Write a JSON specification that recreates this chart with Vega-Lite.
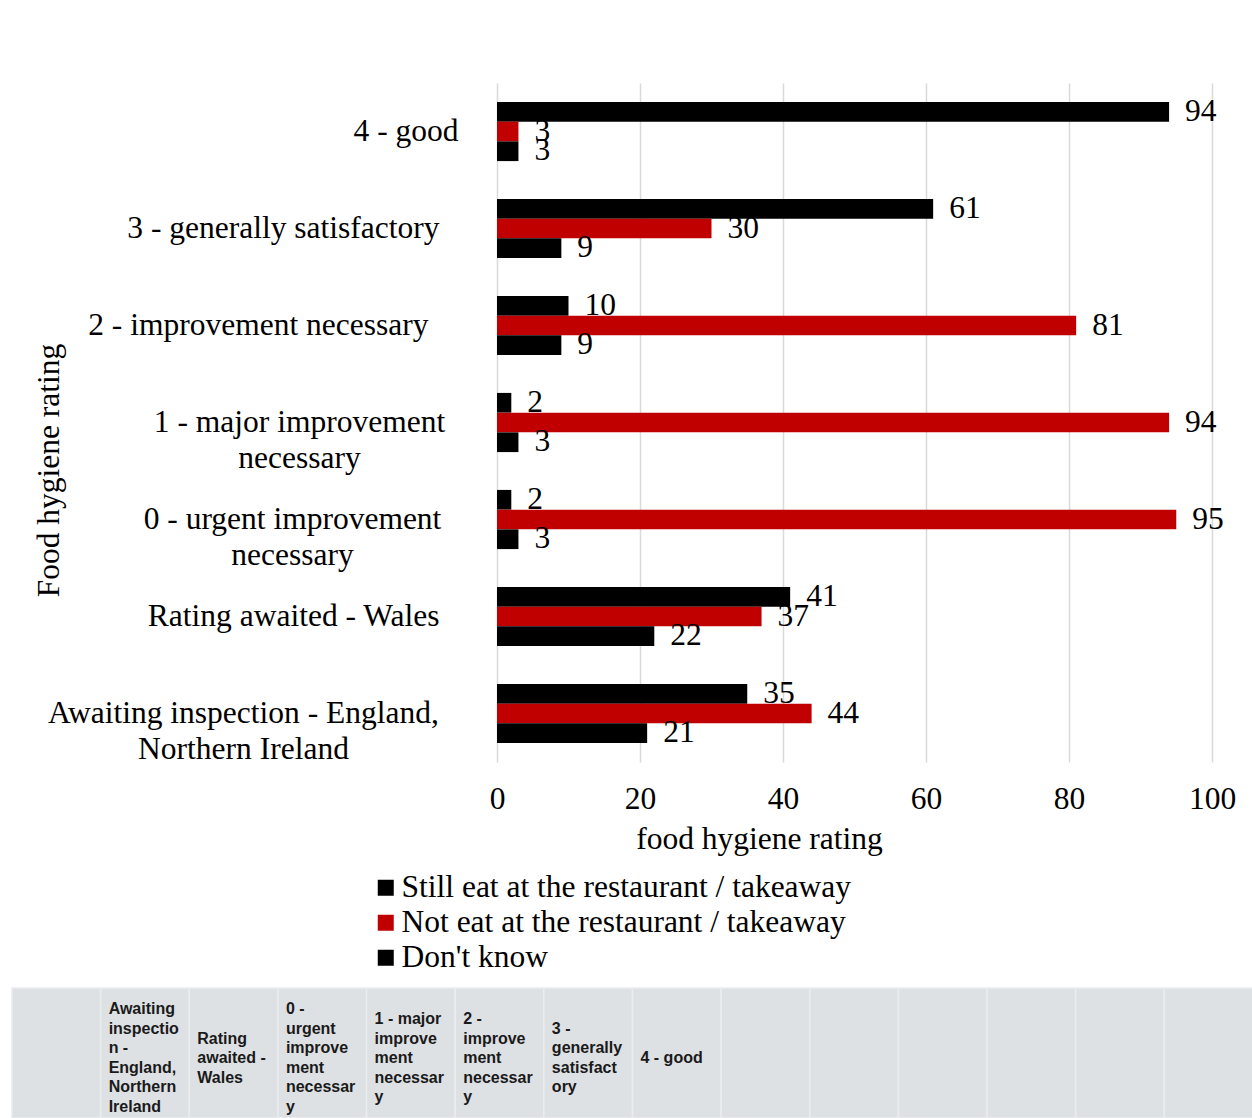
{
  "$schema": "https://vega.github.io/schema/vega-lite/v6.json",
  "padding": {"left": 11, "top": 83, "right": 0, "bottom": 0},
  "background": "#ffffff",
  "columns": 1,
  "spacing": 132,
  "config": {
    "font": "Liberation Serif",
    "view": {"stroke": null}
  },
  "concat": [
    {
      "width": 715,
      "height": 679,
      "data": {
        "values": [
          {"rating": "4 - good", "response": "Still eat at the restaurant / takeaway", "pct": 94},
          {"rating": "4 - good", "response": "Not eat at the restaurant / takeaway", "pct": 3},
          {"rating": "4 - good", "response": "Don't know", "pct": 3},
          {"rating": "3 - generally satisfactory", "response": "Still eat at the restaurant / takeaway", "pct": 61},
          {"rating": "3 - generally satisfactory", "response": "Not eat at the restaurant / takeaway", "pct": 30},
          {"rating": "3 - generally satisfactory", "response": "Don't know", "pct": 9},
          {"rating": "2 - improvement necessary", "response": "Still eat at the restaurant / takeaway", "pct": 10},
          {"rating": "2 - improvement necessary", "response": "Not eat at the restaurant / takeaway", "pct": 81},
          {"rating": "2 - improvement necessary", "response": "Don't know", "pct": 9},
          {"rating": "1 - major improvement necessary", "response": "Still eat at the restaurant / takeaway", "pct": 2},
          {"rating": "1 - major improvement necessary", "response": "Not eat at the restaurant / takeaway", "pct": 94},
          {"rating": "1 - major improvement necessary", "response": "Don't know", "pct": 3},
          {"rating": "0 - urgent improvement necessary", "response": "Still eat at the restaurant / takeaway", "pct": 2},
          {"rating": "0 - urgent improvement necessary", "response": "Not eat at the restaurant / takeaway", "pct": 95},
          {"rating": "0 - urgent improvement necessary", "response": "Don't know", "pct": 3},
          {"rating": "Rating awaited - Wales", "response": "Still eat at the restaurant / takeaway", "pct": 41},
          {"rating": "Rating awaited - Wales", "response": "Not eat at the restaurant / takeaway", "pct": 37},
          {"rating": "Rating awaited - Wales", "response": "Don't know", "pct": 22},
          {"rating": "Awaiting inspection - England, Northern Ireland", "response": "Still eat at the restaurant / takeaway", "pct": 35},
          {"rating": "Awaiting inspection - England, Northern Ireland", "response": "Not eat at the restaurant / takeaway", "pct": 44},
          {"rating": "Awaiting inspection - England, Northern Ireland", "response": "Don't know", "pct": 21}
        ]
      },
      "encoding": {
        "y": {
          "field": "rating",
          "type": "nominal",
          "sort": ["4 - good", "3 - generally satisfactory", "2 - improvement necessary", "1 - major improvement necessary", "0 - urgent improvement necessary", "Rating awaited - Wales", "Awaiting inspection - England, Northern Ireland"],
          "scale": {"paddingInner": 0.39, "paddingOuter": 0.195},
          "axis": {
            "title": "Food hygiene rating",
            "titleFont": "Liberation Serif",
            "titleFontSize": 31.5,
            "titleFontWeight": "normal",
            "titleColor": "#000000",
            "titleX": -448,
            "titleY": 387,
            "titleAngle": -90,
            "titleAlign": "center",
            "titleBaseline": "middle",
            "labelFont": "Liberation Serif",
            "labelFontSize": 31.5,
            "labelColor": "#000000",
            "labelLimit": 600,
            "labelLineHeight": 36,
            "labelAlign": {
              "condition": {"test": "indexof(['1 - major improvement necessary', '0 - urgent improvement necessary', 'Awaiting inspection - England, Northern Ireland'], datum.value) >= 0", "value": "center"},
              "value": "right"
            },
            "labelPadding": {
              "condition": [
                {"test": "datum.value == '4 - good'", "value": 39},
                {"test": "datum.value == '2 - improvement necessary'", "value": 69},
                {"test": "datum.value == '1 - major improvement necessary'", "value": 198},
                {"test": "datum.value == '0 - urgent improvement necessary'", "value": 205},
                {"test": "datum.value == 'Awaiting inspection - England, Northern Ireland'", "value": 254}
              ],
              "value": 58
            },
            "labelExpr": "datum.value == '1 - major improvement necessary' ? ['1 - major improvement', 'necessary'] : datum.value == '0 - urgent improvement necessary' ? ['0 - urgent improvement', 'necessary'] : datum.value == 'Awaiting inspection - England, Northern Ireland' ? ['Awaiting inspection - England,', 'Northern Ireland'] : datum.value",
            "ticks": false,
            "domain": false,
            "grid": false
          }
        },
        "yOffset": {
          "field": "response",
          "type": "nominal",
          "sort": ["Still eat at the restaurant / takeaway", "Not eat at the restaurant / takeaway", "Don't know"],
          "scale": {"paddingInner": 0, "paddingOuter": 0}
        },
        "x": {
          "field": "pct",
          "type": "quantitative",
          "scale": {"domain": [0, 100]},
          "axis": {
            "title": "food hygiene rating",
            "titleFont": "Liberation Serif",
            "titleFontSize": 31.5,
            "titleFontWeight": "normal",
            "titleColor": "#000000",
            "titlePadding": 9,
            "titleX": 262,
            "titleAnchor": "middle",
            "values": [0, 20, 40, 60, 80, 100],
            "labelFont": "Liberation Serif",
            "labelFontSize": 31.5,
            "labelColor": "#000000",
            "labelPadding": 21,
            "labelFlush": false,
            "ticks": false,
            "domain": false,
            "grid": true,
            "gridColor": "#d9d9d9",
            "gridWidth": 1.5
          }
        }
      },
      "layer": [
        {
          "mark": {"type": "bar"},
          "encoding": {
            "color": {
              "field": "response",
              "type": "nominal",
              "scale": {
                "domain": ["Still eat at the restaurant / takeaway", "Not eat at the restaurant / takeaway", "Don't know"],
                "range": ["#000000", "#c00000", "#000000"]
              },
              "legend": {
                "title": null,
                "orient": "none",
                "legendX": -127,
                "legendY": 789,
                "direction": "vertical",
                "symbolType": "square",
                "symbolSize": 256,
                "symbolStrokeWidth": 0,
                "symbolOpacity": 1,
                "labelFont": "Liberation Serif",
                "labelFontSize": 31.5,
                "labelColor": "#000000",
                "labelLimit": 800,
                "labelOffset": 0,
                "rowPadding": 2,
                "padding": 0
              }
            }
          }
        },
        {
          "mark": {"type": "text", "align": "left", "baseline": "middle", "dx": 16, "font": "Liberation Serif", "fontSize": 31.5, "color": "#000000"},
          "encoding": {
            "text": {"field": "pct", "type": "quantitative"}
          }
        }
      ]
    },
    {
      "width": 756,
      "height": 130,
      "view": {"stroke": null},
      "data": {
        "values": [
          {"col": 0, "label": ""},
          {"col": 1, "label": "Awaiting\ninspectio\nn -\nEngland,\nNorthern\nIreland"},
          {"col": 2, "label": "Rating\nawaited -\nWales"},
          {"col": 3, "label": "0 -\nurgent\nimprove\nment\nnecessar\ny"},
          {"col": 4, "label": "1 - major\nimprove\nment\nnecessar\ny"},
          {"col": 5, "label": "2 -\nimprove\nment\nnecessar\ny"},
          {"col": 6, "label": "3 -\ngenerally\nsatisfact\nory"},
          {"col": 7, "label": "4 - good"},
          {"col": 8, "label": ""},
          {"col": 9, "label": ""},
          {"col": 10, "label": ""},
          {"col": 11, "label": ""},
          {"col": 12, "label": ""},
          {"col": 13, "label": ""}
        ]
      },
      "encoding": {
        "x": {
          "field": "col",
          "type": "ordinal",
          "scale": {"range": [-485, 756], "paddingInner": 0, "paddingOuter": 0},
          "axis": null
        }
      },
      "layer": [
        {
          "mark": {"type": "rect", "color": "#dee1e4", "stroke": "#eaecee", "strokeWidth": 1.5, "opacity": 1},
          "encoding": {
            "y": {"datum": 0, "type": "quantitative", "scale": {"domain": [0, 1], "nice": false}, "axis": null},
            "y2": {"datum": 1}
          }
        },
        {
          "mark": {
            "type": "text",
            "align": "left",
            "baseline": "middle",
            "dx": 8,
            "dy": {"expr": "5 - (length(split(datum.label, '\\n')) - 1) * 19.5 / 2"},
            "font": "Liberation Sans",
            "fontSize": 16,
            "fontWeight": "bold",
            "color": "#1a1a1a",
            "lineBreak": "\n",
            "lineHeight": 19.5
          },
          "encoding": {
            "x": {"field": "col", "type": "ordinal", "bandPosition": 0},
            "y": {"datum": 0.5, "type": "quantitative"},
            "text": {"field": "label", "type": "nominal"}
          }
        }
      ]
    }
  ]
}
